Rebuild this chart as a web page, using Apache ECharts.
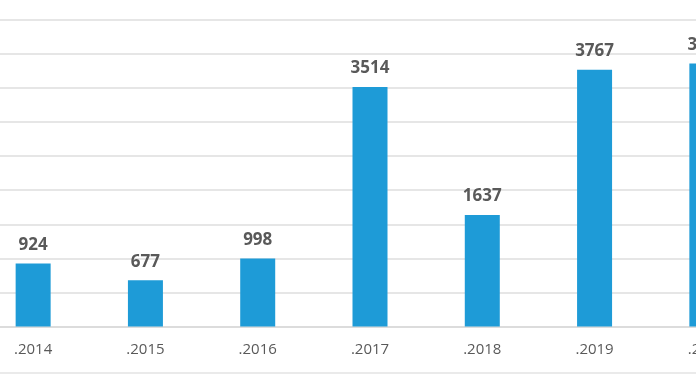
<!DOCTYPE html>
<html>
<head>
<meta charset="utf-8">
<script src="https://cdn.jsdelivr.net/npm/echarts@6/dist/echarts.min.js"></script>
<style>
html,body{margin:0;padding:0;background:#fff;overflow:hidden;width:696px;height:385px;position:relative;}
#c{position:absolute;left:-23px;top:0;width:786px;height:385px;}
</style>
</head>
<body>
<div id="c"></div>
<script>
const categories = ['.2014', '.2015', '.2016', '.2017', '.2018', '.2019', '.2020'];
const values = [924, 677, 998, 3514, 1637, 3767, 3860];
const labelTexts = ['924', '677', '998', '3514', '1637', '3767', '3860'];

const chart = echarts.init(document.getElementById('c'), null, {renderer: 'canvas'});
chart.setOption({
  animation: false,
  backgroundColor: '#ffffff',
  grid: {left: 0, right: 0, top: 19.8, bottom: 58.5, containLabel: false},
  xAxis: {
    type: 'category',
    data: categories,
    axisLine: {show: true, lineStyle: {color: '#d9d9d9', width: 1.5}},
    axisTick: {show: false},
    axisLabel: {interval: 0, color: '#595959', fontFamily: 'Open Sans', fontSize: 15, margin: 16}
  },
  yAxis: {
    type: 'value',
    min: 0, max: 4500, interval: 500,
    axisLine: {show: false},
    axisTick: {show: false},
    axisLabel: {show: false},
    splitLine: {lineStyle: {color: '#dedede', width: 1.5}}
  },
  series: [{
    type: 'bar',
    data: values,
    barWidth: 35,
    itemStyle: {color: '#1E9BD7'},
    label: {
      show: true,
      position: 'top',
      distance: 10,
      formatter: p => labelTexts[p.dataIndex],
      color: '#595959',
      fontFamily: 'Open Sans',
      fontWeight: 'bold',
      fontSize: 17
    }
  }],
  graphic: [{
    type: 'line',
    shape: {x1: 0, y1: 373, x2: 786, y2: 373},
    style: {stroke: '#e3e3e3', lineWidth: 1.5}
  }]
});
</script>
</body>
</html>
